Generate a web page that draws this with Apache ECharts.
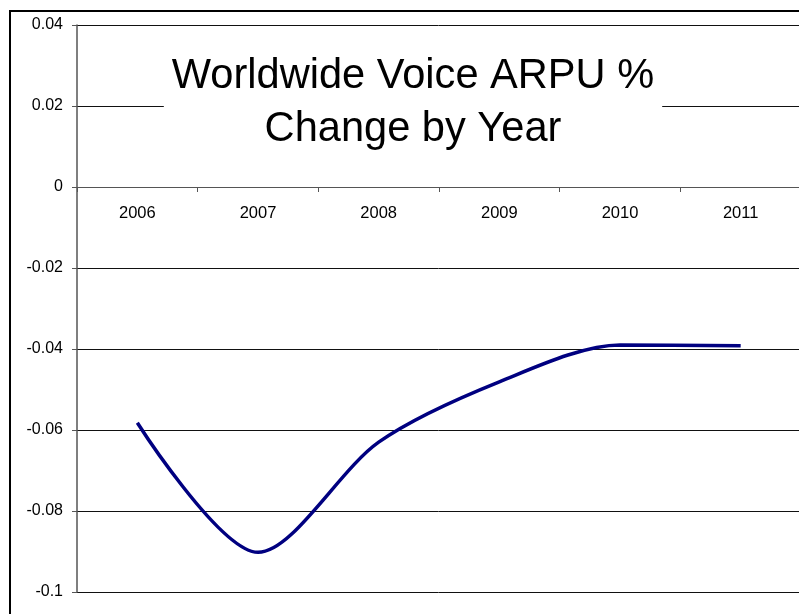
<!DOCTYPE html>
<html>
<head>
<meta charset="utf-8">
<script src="https://cdn.jsdelivr.net/npm/echarts@6/dist/echarts.min.js"></script>
<style>
html,body{margin:0;padding:0;background:#fff;}
#chart{width:799px;height:614px;}
</style>
</head>
<body>
<div id="chart"></div>
<script>
var categories = ['2006', '2007', '2008', '2009', '2010', '2011'];
var arpuChange = [-0.0582, -0.0902, -0.0630, -0.0481, -0.0390, -0.0392];
var yTicks = {min: -0.1, max: 0.04, interval: 0.02};
var titleText = 'Worldwide Voice ARPU %\nChange by Year';

var chart = echarts.init(document.getElementById('chart'));
chart.setOption({
  animation: false,
  backgroundColor: '#fff',
  grid: {left: 77, top: 25, width: 724, height: 567, containLabel: false, outerBoundsMode: 'none'},
  title: {
    text: titleText,
    left: 405,
    top: 40,
    textAlign: 'center',
    textVerticalAlign: 'top',
    padding: [10, 8, 10, 8],
    backgroundColor: '#fff',
    z: 10,
    textStyle: {fontFamily: 'Liberation Sans, Arial', fontSize: 41.6, fontWeight: 'normal', color: '#000', lineHeight: 53}
  },
  xAxis: {
    type: 'category',
    data: categories,
    boundaryGap: true,
    position: 'bottom',
    offset: -405,
    axisLine: {onZero: false, lineStyle: {color: '#555', width: 1}},
    axisTick: {show: true, length: 5, lineStyle: {color: '#555'}},
    axisLabel: {margin: 18, fontFamily: 'Liberation Sans, Arial', fontSize: 16.5, color: '#000'},
    splitLine: {show: false}
  },
  yAxis: {
    type: 'value',
    min: yTicks.min,
    max: yTicks.max,
    interval: yTicks.interval,
    axisLine: {show: true, lineStyle: {color: '#555', width: 1.5}},
    axisTick: {show: true, length: 5, lineStyle: {color: '#555'}},
    axisLabel: {margin: 14, fontFamily: 'Liberation Sans, Arial', fontSize: 16, color: '#000'},
    splitLine: {show: true, lineStyle: {color: '#111', width: 1}}
  },
  graphic: [{
    type: 'rect',
    shape: {x: 10, y: 11, width: 800, height: 620},
    style: {fill: 'none', stroke: '#000', lineWidth: 2},
    silent: true,
    z: 100
  }],
  series: [{
    type: 'line',
    data: arpuChange,
    smooth: 0.3,
    symbol: 'none',
    lineStyle: {color: '#000080', width: 3.5},
    z: 5
  }]
});
</script>
</body>
</html>
